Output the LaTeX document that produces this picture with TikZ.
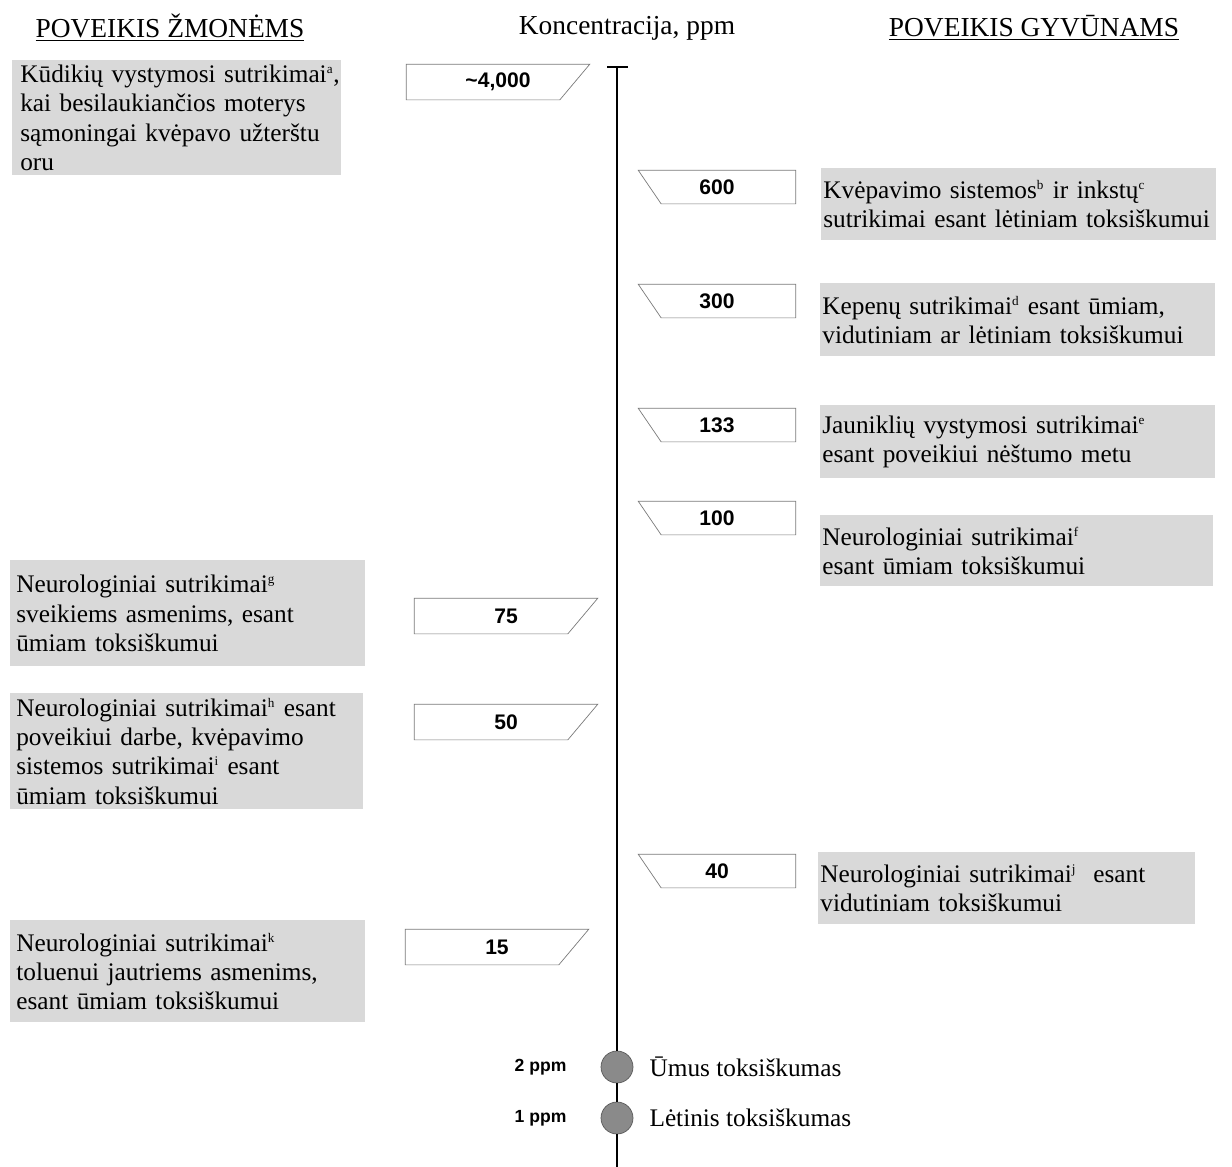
\documentclass[tikz,border=0pt]{standalone}
\usepackage{fontspec}
\setmainfont{Liberation Serif}
\newfontfamily\tagfont{Liberation Sans}
\usetikzlibrary{positioning}

\definecolor{boxgray}{HTML}{D9D9D9}
\definecolor{dotgray}{HTML}{8A8A8A}
\definecolor{tagline}{HTML}{7A7A7A}

\newcommand\fnote[1]{\textsuperscript{\fontsize{7.5}{8}\selectfont #1}}

\tikzset{
  heading/.style={font=\fontsize{15.6}{18}\selectfont},
  effect/.style={fill=boxgray, align=left, anchor=north west, inner xsep=0.12cm, inner ysep=0pt, font=\fontsize{14.4}{16.6}\selectfont},
  effectr/.style={effect, inner xsep=0.04cm},
  tagleft/.style={minimum width=3.66cm, minimum height=0.7cm, inner sep=0pt, font=\tagfont\bfseries\fontsize{12}{14}\selectfont},
  tagright/.style={tagleft, minimum width=3.14cm, minimum height=0.66cm},
  dose/.style={circle, fill=dotgray, draw=black!65, minimum size=0.64cm, inner sep=0pt},
  doselabel/.style={font=\fontsize{14.4}{17}\selectfont},
  ppm/.style={font=\tagfont\bfseries\fontsize{10}{12}\selectfont}
}

\begin{document}
\begin{tikzpicture}[x=0.02cm, y=-0.02cm]
    \useasboundingbox (0,0) rectangle (1232,1167);

    % Headings
    \node[heading] (hhum) at (170,28) {\underline{POVEIKIS ŽMONĖMS}};
    \node[heading] (hconc) at (627,28) {Koncentracija, ppm};
    \node[heading] (hanim) at (1034,28) {\underline{POVEIKIS GYVŪNAMS}};

    % Axis
    \coordinate (axtop) at (617,67);
    \coordinate (axbot) at (617,1167);
    \node[dose] (acute) at (617,1067) {};
    \node[dose] (chronic) at (617,1118) {};
    \draw[line width=0.9pt] (axtop) -- (acute) -- (chronic) -- (axbot);
    \draw[line width=0.9pt] ([xshift=-0.2cm]axtop) -- ([xshift=0.22cm]axtop);

    \node[doselabel, right=0.2cm of acute] (lacute) {Ūmus toksiškumas};
    \node[doselabel, right=0.2cm of chronic] (lchronic) {Lėtinis toksiškumas};
    \node[ppm, left=0.56cm of acute] (pacute) {2 ppm};
    \node[ppm, left=0.56cm of chronic] (pchronic) {1 ppm};

    % Effects on humans
    \node[effect, inner xsep=0.16cm, text width=6.26cm, minimum height=2.3cm] (h4000) at (12,60)
        {\mbox{Kūdikių vystymosi sutrikimai\fnote{a},}\\ kai besilaukiančios moterys\\ sąmoningai kvėpavo užterštu\\ oru};
    \node[effect, text width=6.86cm, minimum height=2.12cm] (h75) at (10,560)
        {Neurologiniai sutrikimai\fnote{g}\\ sveikiems asmenims, esant\\ ūmiam toksiškumui};
    \node[effect, text width=6.82cm, minimum height=2.32cm] (h50) at (10,693)
        {Neurologiniai sutrikimai\fnote{h} esant\\ poveikiui darbe, kvėpavimo\\ sistemos sutrikimai\fnote{i} esant\\ ūmiam toksiškumui};
    \node[effect, text width=6.86cm, minimum height=2.04cm] (h15) at (10,920)
        {Neurologiniai sutrikimai\fnote{k}\\ toluenui jautriems asmenims,\\ esant ūmiam toksiškumui};

    % Effects on animals
    \node[effectr, text width=7.82cm, minimum height=1.44cm] (a600) at (821,168)
        {Kvėpavimo sistemos\fnote{b} ir inkstų\fnote{c}\\ sutrikimai esant lėtiniam toksiškumui};
    \node[effectr, text width=7.82cm, minimum height=1.46cm] (a300) at (820,283)
        {Kepenų sutrikimai\fnote{d} esant ūmiam,\\ vidutiniam ar lėtiniam toksiškumui};
    \node[effectr, text width=7.82cm, minimum height=1.46cm] (a133) at (820,405)
        {Jauniklių vystymosi sutrikimai\fnote{e}\\ esant poveikiui nėštumo metu};
    \node[effectr, text width=7.78cm, minimum height=1.42cm] (a100) at (820,515)
        {Neurologiniai sutrikimai\fnote{f}\\ esant ūmiam toksiškumui};
    \node[effectr, text width=7.46cm, minimum height=1.44cm] (a40) at (818,852)
        {Neurologiniai sutrikimai\fnote{j}\ \ esant\\ vidutiniam toksiškumui};

    % Concentration tags
    \node[tagleft] (v4000) at (498,82) {\textasciitilde4,000};
    \node[tagleft] (v75) at (506,616) {75};
    \node[tagleft] (v50) at (506,722) {50};
    \node[tagleft] (v15) at (497,947) {15};
    \node[tagright] (v600) at (717,187) {600};
    \node[tagright] (v300) at (717,301) {300};
    \node[tagright] (v133) at (717,425) {133};
    \node[tagright] (v100) at (717,518) {100};
    \node[tagright] (v40) at (717,871) {40};

    \foreach \t in {v4000,v75,v50,v15}
        \draw[tagline] (\t.north west) -- (\t.north east)
            -- ([xshift=-0.6cm]\t.south east) -- (\t.south west) -- cycle;
    \foreach \t in {v600,v300,v133,v100,v40}
        \draw[tagline] (\t.north west) -- (\t.north east)
            -- (\t.south east) -- ([xshift=0.46cm]\t.south west) -- cycle;
\end{tikzpicture}
\end{document}
